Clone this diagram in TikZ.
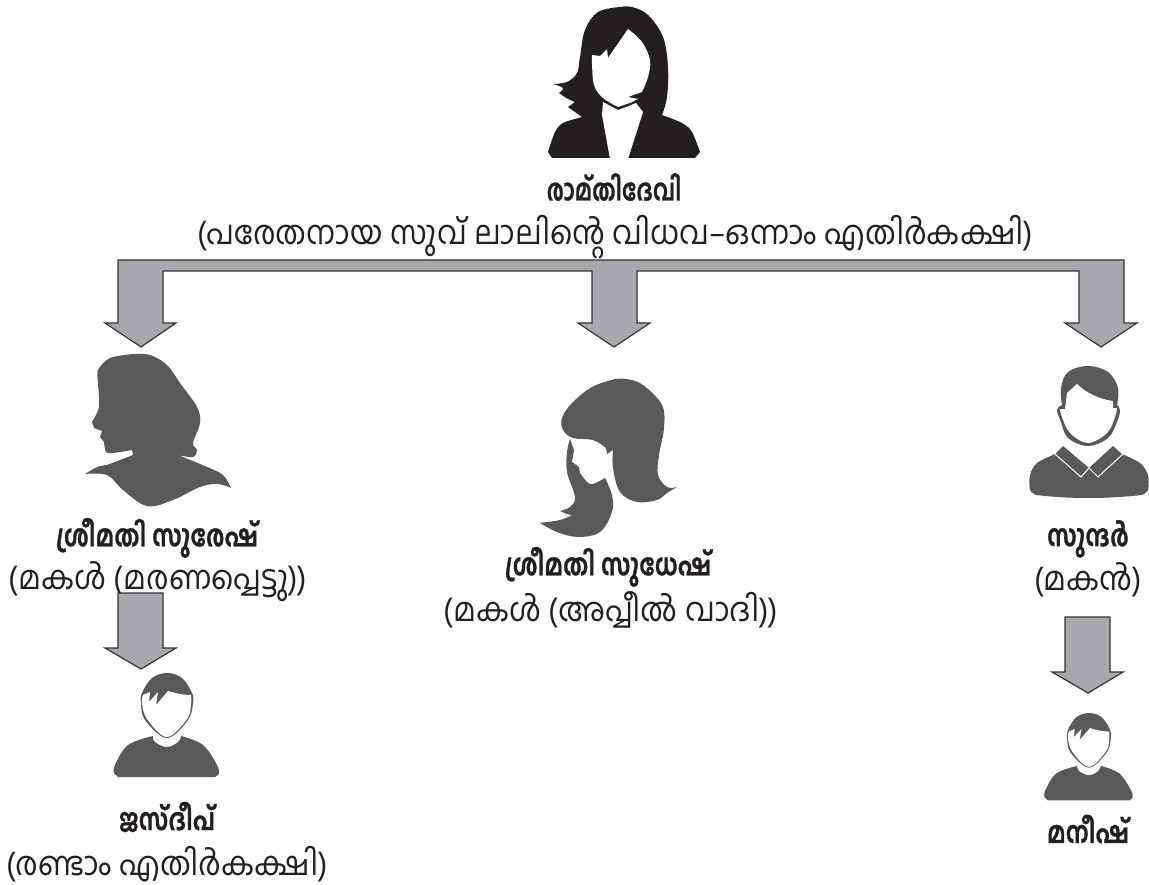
\documentclass[tikz,border=0pt]{standalone}
\usepackage{fontspec}
\newfontfamily\mal[Script=Malayalam,BoldFeatures={FakeBold=1.2}]{Hind Kochi}
\definecolor{inkblack}{HTML}{231F20}
\definecolor{inkgray}{HTML}{58595B}
\definecolor{arrowfill}{HTML}{A7A9AC}
\definecolor{arrowline}{HTML}{333333}
\tikzset{
  namelabel/.style={inner sep=0pt,font=\mal\bfseries\fontsize{30}{36}\selectfont,text=inkblack,xscale=.8,transform shape},
  rolelabel/.style={inner sep=0pt,font=\mal\fontsize{33}{40}\selectfont,text=inkblack,xscale=.92,transform shape},
  blockarrow/.style={draw=arrowline,fill=arrowfill,line width=1.2pt,line join=miter},
  silhouette/.style={fill=inkgray,draw=none},
  boyfigure/.pic={
    \fill[inkgray] plot[smooth cycle,tension=.6] coordinates {(0,0)(15,5)(25,20)(26,30)(21,47)(0,65)(-22,47)(-26,30)(-25,20)(-15,5)};
    \fill[inkgray] plot[smooth,tension=.6] coordinates {(-14,63)(-39,72)(-52,92)(-53,100)} -- (-49,104) -- (48,104) -- (51,102) 
       -- plot[smooth,tension=.6] coordinates {(51,102)(51,94)(36,72)(14,63)}
       -- plot[smooth,tension=.7] coordinates {(14,63)(11,69)(0,74)(-12,69)(-14,63)} -- cycle;
    \fill[white] (-24,22) -- (-17,19) -- (-18,29) -- (-9,19) -- (-11,32) -- (1,18)
       .. controls (8,20) and (15,22) .. (24,22)
       -- plot[smooth,tension=.6] coordinates {(24,22)(24,32)(20,46)(0,64)(-20,46)(-25,30)(-24,22)} -- cycle;
  }
}
\begin{document}
\begin{tikzpicture}[x=1pt,y=-1pt]
\useasboundingbox (0,0) rectangle (1149,885);
\fill[white] (0,0) rectangle (1149,885);

% top woman
\fill[inkblack] plot[smooth,tension=.6] coordinates {(620,7)(598,12)(585,30)(580,57)(577,73)(567,82)(553,84)}
  -- plot[smooth,tension=.6] coordinates {(553,84)(563,88)(559,93)}
  -- plot[smooth,tension=.6] coordinates {(559,93)(568,99)(575,102)}
  -- (568,107) -- (582,117)
  -- plot[smooth,tension=.5] coordinates {(582,117)(563,123)(555,132)(548,152)}
  -- (552,158) -- (695,158) -- (700,152)
  -- plot[smooth,tension=.5] coordinates {(700,152)(692,132)(682,123)(662,115)}
  -- plot[smooth,tension=.6] coordinates {(662,115)(667,97)(668,67)(663,37)(648,15)(632,7)(620,7)} -- cycle;
\fill[white] (628,29) -- plot[smooth,tension=.6] coordinates {(628,29)(642,42)(650,60)(648,77)(642,92)} -- (628,97) -- (638,99) -- (630,103) -- (618,107)
  -- plot[smooth,tension=.6] coordinates {(618,107)(603,98)(594,85)(592,63)(592,55)}
  -- (600,56) -- (607,49) -- (608,58) -- cycle;
\fill[white] (603,102) -- (602,115) -- (610,159) -- (628,159) -- (643,112) -- (636,103) -- (618,110) -- cycle;
\draw[inkblack,line width=.8pt] (603,99) .. controls (610,104) and (614,107) .. (618,108) .. controls (624,108) and (630,105) .. (636,101);

% left woman
\fill[silhouette] plot[smooth,tension=.5] coordinates {(133,354)(110,358)(98,370)(98,383)(99,407)(92,422)}
  -- (94,428) -- (102,431) -- (100,437) -- (104,442)
  -- plot[smooth,tension=.5] coordinates {(104,442)(106,452)(113,453)(132,450)}
  -- (133,455) -- (107,465)
  -- plot[smooth,tension=.5] coordinates {(107,465)(97,467)(85,474)}
  -- plot[smooth,tension=.6] coordinates {(85,474)(107,475)(123,490)(147,506)(173,500)(200,487)(218,484)(231,488)}
  -- plot[smooth,tension=.6] coordinates {(231,488)(223,475)(207,467)(178,455)}
  -- plot[smooth,tension=.6] coordinates {(178,455)(193,457)(197,450)(193,443)(200,423)(197,407)(180,383)(167,365)(150,355)(133,354)} -- cycle;

% centre woman
\fill[silhouette] plot[smooth,tension=.6] coordinates {(615,379)(592,387)(572,403)(562,418)(563,430)(573,438)(593,440)(606,448)}
  -- (607,454) -- (613,450)
  -- plot[smooth,tension=.6] coordinates {(613,450)(613,468)(620,492)(637,502)(657,500)(667,493)(677,487)}
  -- plot[smooth,tension=.6] coordinates {(677,487)(667,487)(658,475)(659,455)(664,428)(662,405)(643,385)(627,379)(615,379)} -- cycle;
\fill[silhouette] (570,439) -- plot[smooth,tension=.6] coordinates {(570,439)(567,452)(567,472)(575,497)(570,507)(560,511)}
  -- plot[smooth,tension=.6] coordinates {(560,511)(567,514)(572,515)}
  -- plot[smooth,tension=.6] coordinates {(572,515)(560,520)(540,523)}
  -- plot[smooth,tension=.6] coordinates {(540,523)(557,532)(578,537)(600,532)(612,512)(612,495)(605,478)}
  -- plot[smooth,tension=.6] coordinates {(605,478)(593,484)(587,482)(580,473)}
  -- (579,467) -- (572,462) -- (574,450) -- cycle;

% man
\fill[silhouette] (1062,405) -- plot[smooth,tension=.6] coordinates {(1062,405)(1061,388)(1068,372)(1088,366)(1108,372)(1118,388)(1117,405)}
  -- plot[smooth,tension=.6] coordinates {(1117,405)(1120,410)(1117,422)(1108,438)(1088,446)(1068,438)(1061,422)(1057,410)(1062,405)} -- cycle;
\fill[white] (1067,393) -- (1077,384)
   .. controls (1085,392) and (1098,399) .. (1113,401)
   -- (1113,408) -- (1117,408)
   -- plot[smooth,tension=.6] coordinates {(1117,408)(1115,417)(1107,433)(1088,443)(1070,433)(1062,417)(1060,409)}
   -- (1065,409) -- cycle;
\fill[silhouette] (1063,446) -- (1055,454)
   -- plot[smooth,tension=.5] coordinates {(1055,454)(1037,463)(1030,475)(1030,490)(1036,495)}
   .. controls (1070,499) and (1106,499) .. (1142,495)
   -- plot[smooth,tension=.5] coordinates {(1142,495)(1148,490)(1148,475)(1140,463)(1122,454)}
   -- (1113,446) -- (1089,468) -- cycle;
\draw[white,line width=1pt] (1055,454) -- (1081,477) -- (1089,468) -- (1098,477) -- (1123,454);

% boys
\pic at (167,673) {boyfigure};
\pic[scale=.84] at (1089,713) {boyfigure};

% labels
\node[namelabel,xscale=.93] (root) at (614,187) {രാമ്തിദേവി};
\node[rolelabel] (rootrole) at (615,237) {(പരേതനായ സുവ് ലാലിന്റെ വിധവ–ഒന്നാം എതിർകക്ഷി)};
\node[namelabel] (suresh) at (157,538) {ശ്രീമതി സുരേഷ്};
\node[rolelabel] (sureshrole) at (158,582) {(മകൾ (മരണപ്പെട്ടു))};
\node[namelabel] (sudhesh) at (608,567) {ശ്രീമതി സുധേഷ്};
\node[rolelabel] (sudheshrole) at (611,610) {(മകൾ (അപ്പീൽ വാദി))};
\node[namelabel] (sundar) at (1088,539) {സുന്ദർ};
\node[rolelabel] (sundarrole) at (1088,580) {(മകൻ)};
\node[namelabel] (jasdeep) at (167,817) {ജസ്ദീപ്};
\node[rolelabel] (jasdeeprole) at (167,864) {(രണ്ടാം എതിർകക്ഷി)};
\node[namelabel] (manish) at (1088,829) {മനീഷ്};

% connectors
\coordinate (barL) at (118,260);
\coordinate (barR) at (1124,260);
\coordinate (tipL) at (141,347);
\coordinate (tipM) at (614,347);
\coordinate (tipR) at (1101,347);
\draw[blockarrow] (barL) -- (barR) -- ++(0,63) -- ++(13,0) -- (tipR) -- ++(-36,-24) -- ++(14,0) -- ++(0,-52)
  -- (637,271) -- (637,323) -- ++(13,0) -- (tipM) -- ++(-36,-24) -- ++(14,0) -- ++(0,-52)
  -- (163,271) -- (163,323) -- ++(13,0) -- (tipL) -- ++(-36,-24) -- ++(13,0) -- cycle;
\coordinate (startL) at (118,593);
\coordinate (tipLL) at (141,669);
\draw[blockarrow] (startL) -- ++(45,0) -- ++(0,55) -- ++(13,0) -- (tipLL) -- ++(-36,-21) -- ++(13,0) -- cycle;
\coordinate (startR) at (1065,617);
\coordinate (tipRR) at (1088,693);
\draw[blockarrow] (startR) -- ++(45,0) -- ++(0,55) -- ++(13,0) -- (tipRR) -- ++(-36,-21) -- ++(13,0) -- cycle;
\end{tikzpicture}
\end{document}
